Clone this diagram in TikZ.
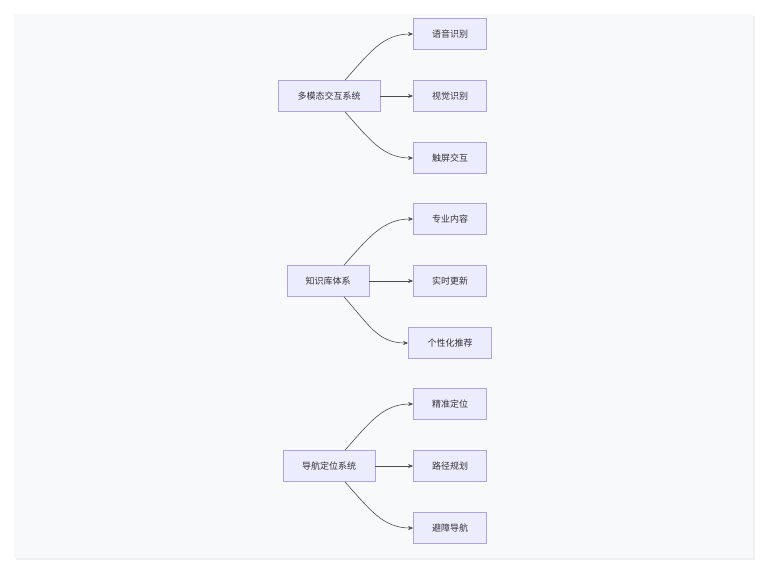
\documentclass[tikz,border=0pt]{standalone}
\usepackage{fontspec}
\setmainfont{Noto Sans CJK SC}
\usetikzlibrary{arrows.meta,calc}
\definecolor{nfill}{HTML}{ECECFF}
\definecolor{ndraw}{HTML}{B4A0E8}
\definecolor{bg}{HTML}{F8F9FB}
\begin{document}
\begin{tikzpicture}[x=1pt,y=-1pt,
 box/.style={draw=ndraw,fill=nfill,line width=0.8pt,minimum height=31pt,inner xsep=8pt,font=\fontsize{9}{10}\selectfont,text=black!80},
 edge/.style={draw=black!70,line width=0.6pt,-{Stealth[length=5pt,width=4pt]}}]
\useasboundingbox (0,0) rectangle (767,573);
\fill[black!6] (16,16) rectangle (755,560);
\fill[bg] (14,14) rectangle (753,558);
\node[box,minimum width=102pt] (m) at (329,96) {多模态交互系统};
\node[box,minimum width=73pt] (m1) at (450,34) {语音识别};
\node[box,minimum width=73pt] (m2) at (450,96) {视觉识别};
\node[box,minimum width=73pt] (m3) at (450,158) {触屏交互};
\node[box,minimum width=82pt] (k) at (328,281) {知识库体系};
\node[box,minimum width=73pt] (k1) at (450,219) {专业内容};
\node[box,minimum width=73pt] (k2) at (450,281) {实时更新};
\node[box,minimum width=83pt] (k3) at (450,343) {个性化推荐};
\node[box,minimum width=92pt] (n) at (329,466) {导航定位系统};
\node[box,minimum width=73pt] (n1) at (450,404) {精准定位};
\node[box,minimum width=73pt] (n2) at (450,466) {路径规划};
\node[box,minimum width=73pt] (n3) at (450,528) {避障导航};
\foreach \s/\a/\b/\c in {m/m1/m2/m3,k/k1/k2/k3,n/n1/n2/n3}{
 \coordinate (t) at ($(\s.north)+(16,0)$);
 \coordinate (u) at ($(\s.south)+(16,0)$);
 \draw[edge] (t) .. controls ($(t)+(25,-28)$) and ($(\a.west)+(-30,0)$) .. (\a.west);
 \draw[edge] (\s.east) -- (\b.west);
 \draw[edge] (u) .. controls ($(u)+(25,28)$) and ($(\c.west)+(-30,0)$) .. (\c.west);
}
\end{tikzpicture}
\end{document}
